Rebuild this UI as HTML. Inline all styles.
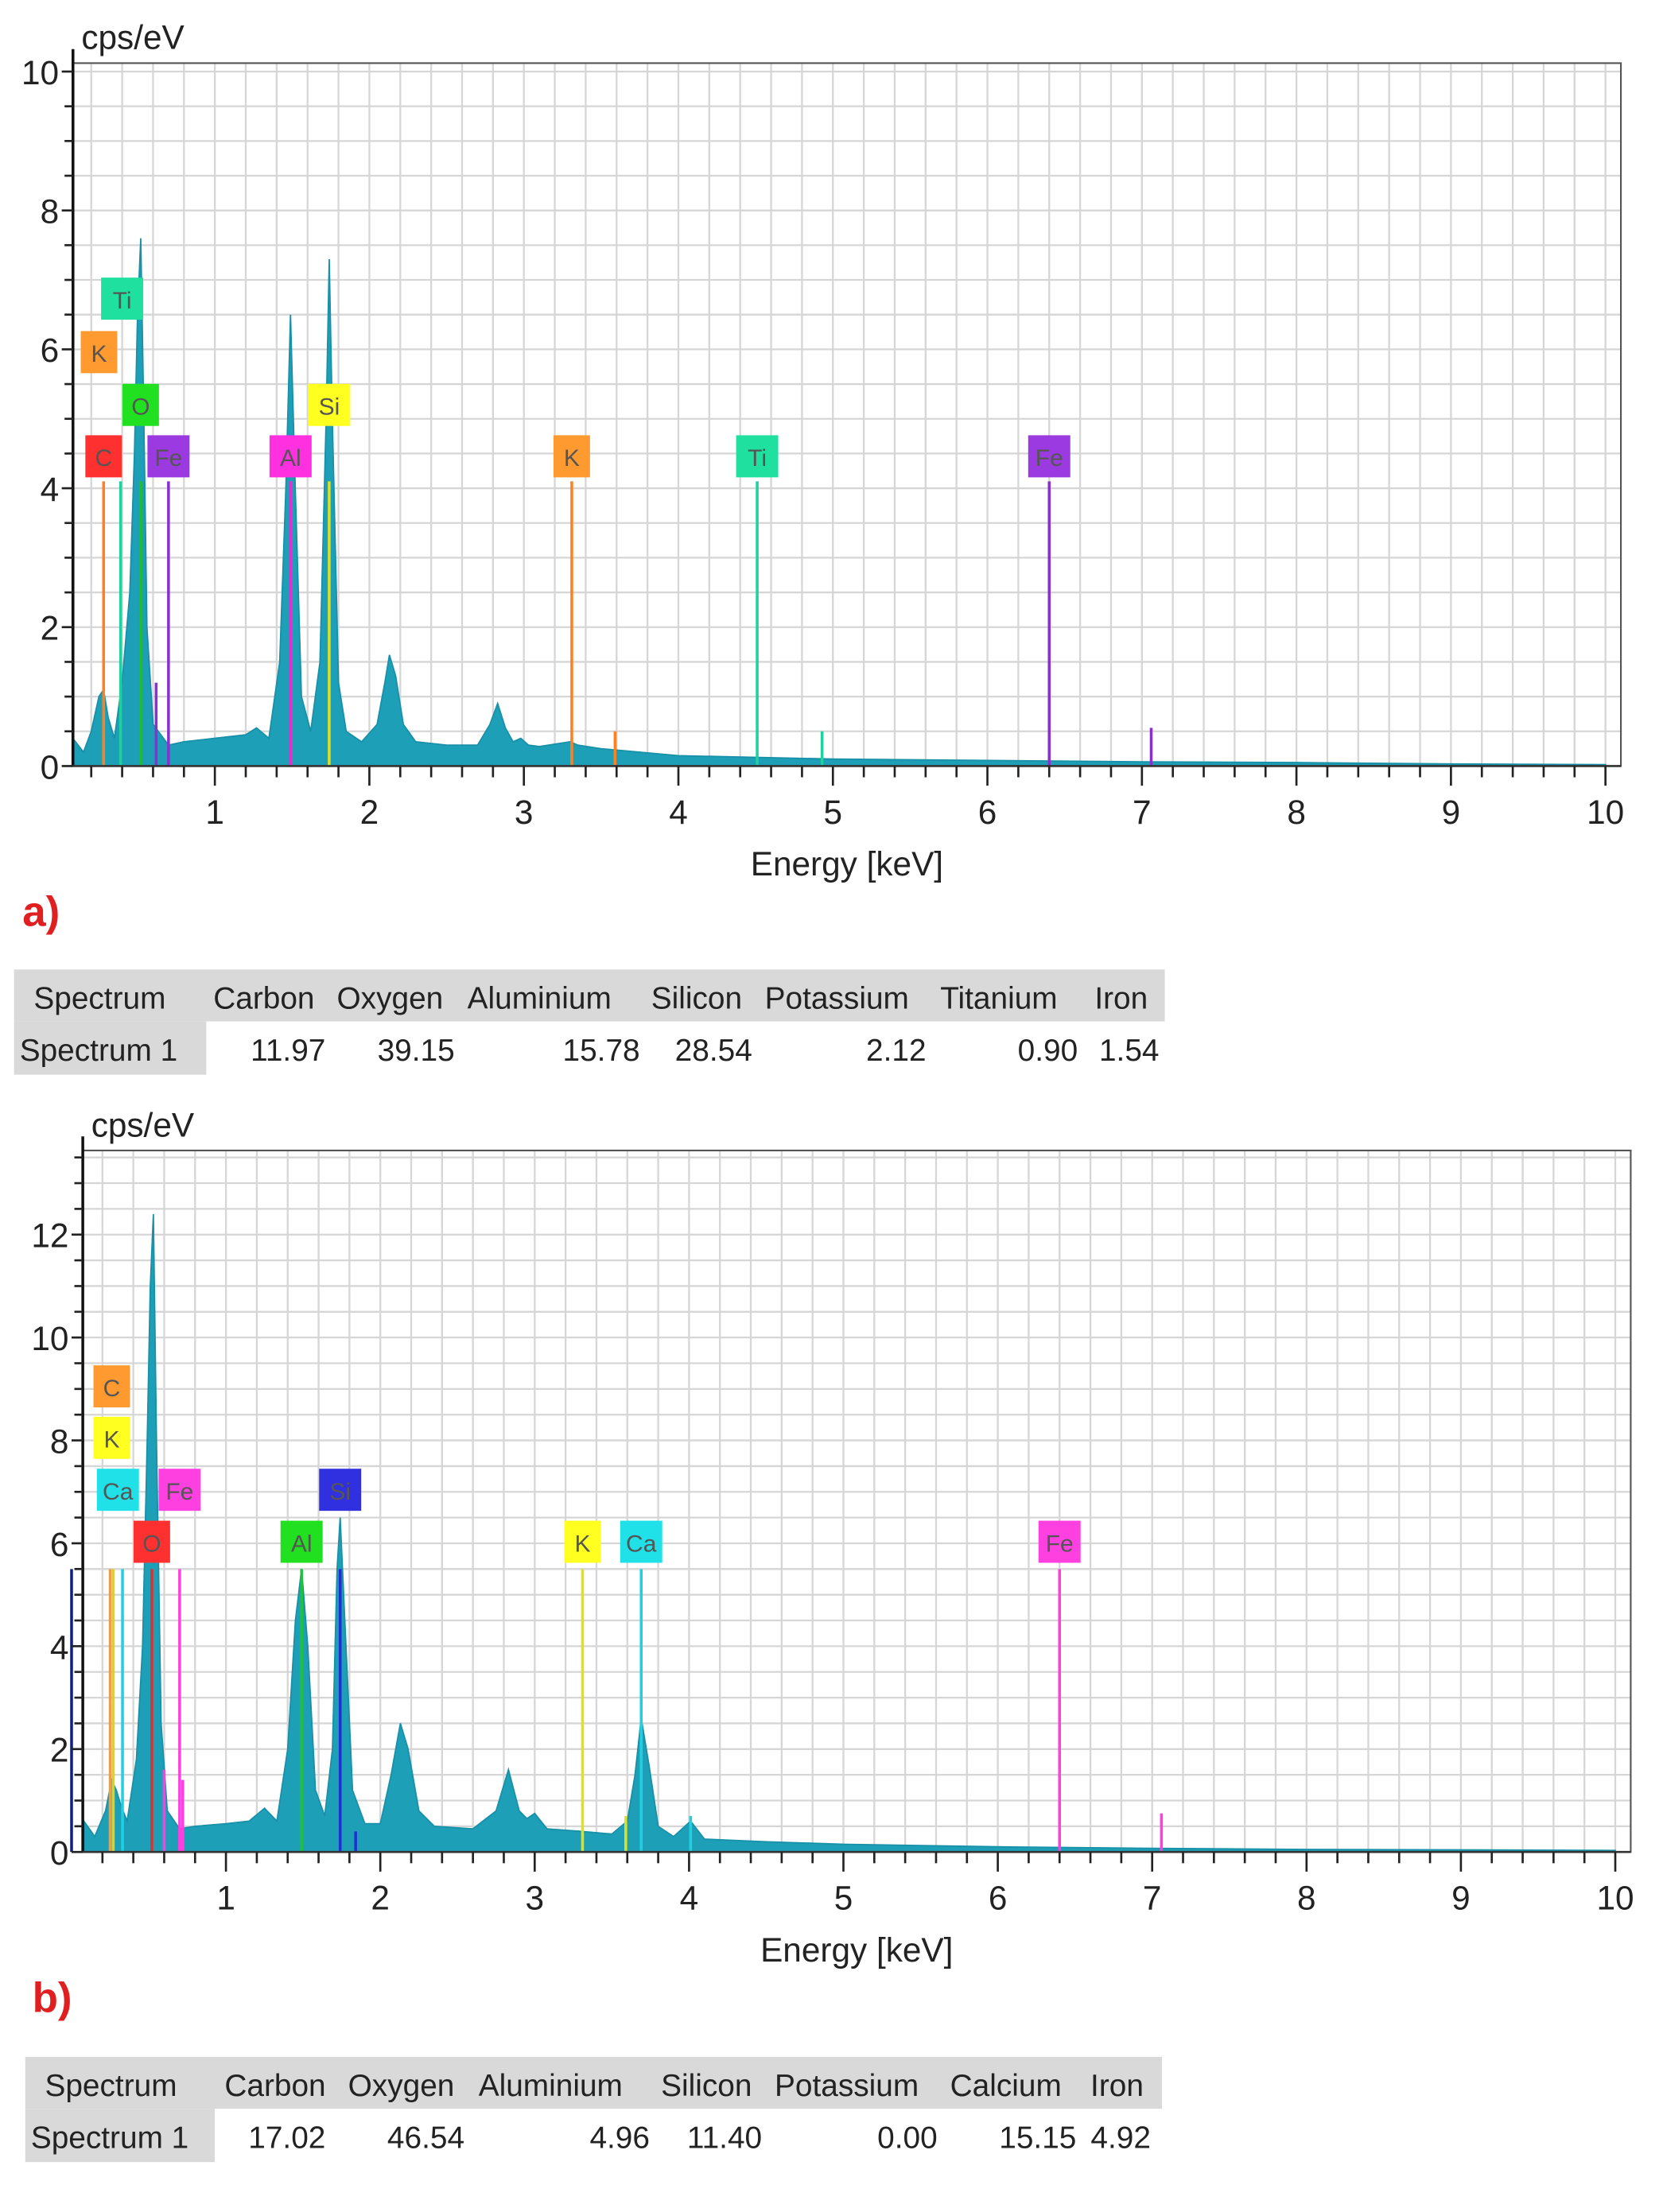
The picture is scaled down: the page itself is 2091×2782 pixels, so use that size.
<!DOCTYPE html>
<html><head><meta charset="utf-8"><style>
html,body{margin:0;padding:0;background:#fff;}
svg{display:block;font-family:"Liberation Sans",sans-serif;}
</style></head><body>
<svg id="fig" width="2091" height="2782" viewBox="0 0 1185 1576.6" preserveAspectRatio="none" xmlns="http://www.w3.org/2000/svg"></svg>
<script>
// ---- Chart A data ----
const energiesA=[0.08,0.15,0.2,0.25,0.28,0.31,0.35,0.4,0.45,0.48,0.5,0.52,0.54,0.56,0.6,0.7,0.8,1.0,1.2,1.27,1.35,1.42,1.46,1.49,1.52,1.56,1.62,1.68,1.72,1.74,1.76,1.8,1.85,1.95,2.05,2.1,2.13,2.17,2.22,2.3,2.5,2.7,2.78,2.83,2.88,2.93,2.98,3.03,3.1,3.3,3.35,3.5,4,5,6,7,8,9,10];
const countsA=[0.4,0.2,0.5,1.0,1.1,0.7,0.4,1.2,2.5,4.5,6.5,7.6,5,2,0.6,0.3,0.35,0.4,0.45,0.55,0.4,1.5,4,6.5,4,1,0.5,1.5,5,7.3,5,1.2,0.5,0.35,0.6,1.2,1.6,1.3,0.6,0.35,0.3,0.3,0.6,0.9,0.55,0.35,0.4,0.3,0.28,0.35,0.3,0.25,0.15,0.1,0.08,0.06,0.05,0.03,0.02];
const markerElA=["C","Fe","Al","K","Ti","Fe","Si","O","K","Ti"];
const markerKeVA=[0.28,0.7,1.49,3.31,4.51,6.4,1.74,0.52,0.25,0.4];
const markerBoxA=[4.46,4.46,4.46,4.46,4.46,4.46,5.2,5.2,5.96,6.73];
const markerColA=["#ff3030","#9a3ae0","#ff30e0","#ff9a30","#20e0a0","#9a3ae0","#ffff20","#20e020","#ff9a30","#20e0a0"];
const lineKeVA=[0.28,0.39,0.52,0.7,1.49,1.74,3.31,4.51,6.4,3.59,4.93,7.06,0.62,0.08];
const lineTopA=[4.1,4.1,4.1,4.1,4.1,4.1,4.1,4.1,4.1,0.5,0.5,0.55,1.2,4.1];
const lineColA=["#ff8020","#20d0a0","#20c020","#8a30d0","#e030d0","#e0e020","#ff8020","#20d0a0","#8a30d0","#ff8020","#20d0a0","#8a30d0","#8a30d0","#e0e020"];
// ---- Chart B data ----
const energiesB=[0.08,0.15,0.22,0.26,0.29,0.32,0.36,0.42,0.46,0.49,0.51,0.53,0.55,0.58,0.62,0.7,0.8,1.0,1.15,1.25,1.33,1.4,1.45,1.49,1.53,1.58,1.64,1.69,1.72,1.74,1.77,1.82,1.9,2.0,2.07,2.13,2.18,2.25,2.35,2.6,2.75,2.83,2.9,2.95,3.0,3.08,3.3,3.5,3.6,3.65,3.69,3.74,3.8,3.9,4.01,4.1,4.5,5,6,7,8,9,10];
const countsB=[0.6,0.3,0.8,1.4,1.2,0.9,0.6,1.8,4,8,11,12.4,8,2.5,0.8,0.45,0.5,0.55,0.6,0.85,0.6,2,4.5,5.5,4,1.2,0.7,2,5.5,6.5,4.5,1.2,0.55,0.55,1.5,2.5,2,0.8,0.5,0.45,0.8,1.6,0.8,0.65,0.75,0.45,0.4,0.35,0.6,1.5,2.6,1.7,0.5,0.3,0.6,0.25,0.2,0.15,0.1,0.07,0.05,0.04,0.03];
const markerElB=["C","K","Ca","Fe","Si","O","Al","K","Ca","Fe"];
const markerKeVB=[0.26,0.26,0.3,0.7,1.74,0.52,1.49,3.31,3.69,6.4];
const markerBoxB=[9.05,8.05,7.04,7.04,7.04,6.03,6.03,6.03,6.03,6.03];
const markerColB=["#ff9a30","#ffff20","#20e0e8","#ff40e0","#3030e0","#ff3030","#20e020","#ffff20","#20e0e8","#ff40e0"];
const lineKeVB=[0.0,0.25,0.27,0.33,0.52,0.7,1.49,1.74,3.31,3.69,6.4,7.06,0.6,0.72,3.59,4.01,1.84];
const lineTopB=[5.5,5.5,5.5,5.5,5.5,5.5,5.5,5.5,5.5,5.5,5.5,0.75,1.6,1.4,0.7,0.7,0.4];
const lineColB=["#102080","#ff9a30","#e0d020","#20d0e0","#e03030","#ff40e0","#20c040","#2030d0","#e0e020","#20d0e0","#ff40e0","#ff40e0","#ff40e0","#ff40e0","#e0e020","#20d0e0","#2030d0"];
// ---- Tables ----
const headA=["Spectrum","Carbon","Oxygen","Aluminium","Silicon","Potassium","Titanium","Iron"];
const headXA=[24,152,240,333,464,545,670,780];
const valsA=["Spectrum 1","11.97","39.15","15.78","28.54","2.12","0.90","1.54"];
const valXA=[14,232,324,456,536,660,768,826];
const headB=["Spectrum","Carbon","Oxygen","Aluminium","Silicon","Potassium","Calcium","Iron"];
const headXB=[32,160,248,341,471,552,677,777];
const valsB=["Spectrum 1","17.02","46.54","4.96","11.40","0.00","15.15","4.92"];
const valXB=[22,232,331,463,543,668,767,820];

const NS="http://www.w3.org/2000/svg";
const svg=document.getElementById('fig');
function mk(tag,attrs,parent,txt){const e=document.createElementNS(NS,tag);for(const k in attrs)e.setAttribute(k,attrs[k]);if(txt!==undefined)e.textContent=txt;(parent||svg).appendChild(e);return e;}

function chart(id,cfg,E,C,mEl,mK,mB,mC,lK,lT,lC){
  const g=mk('g',{});
  
  
  const X=k=>cfg.x0+cfg.kx*k, Y=v=>cfg.y0-cfg.ky*v;
  // grid
  for(let k=0.2;k<10.01;k+=0.2){const l=mk('line',{x1:X(k),x2:X(k),y1:cfg.top,y2:cfg.y0,stroke:'#d6d6d6','stroke-width':1.3},g);}
  for(let v=0.5;Y(v)>cfg.top+1;v+=0.5){const l=mk('line',{x1:cfg.left,x2:cfg.right,y1:Y(v),y2:Y(v),stroke:'#d6d6d6','stroke-width':1.3},g);}
  // frame
  const fr=mk('rect',{x:cfg.left,y:cfg.top,width:cfg.right-cfg.left,height:cfg.y0-cfg.top,fill:'none',stroke:'#555','stroke-width':1.2},g);
  
  // spectrum
  let d='M'+X(E[0])+','+Y(0);
  for(let i=0;i<E.length;i++)d+=' L'+X(E[i]).toFixed(1)+','+Y(C[i]).toFixed(1);
  d+=' L'+X(E[E.length-1])+','+Y(0)+' Z';
  const sp=mk('path',{d:d,fill:'#1e9fb8',stroke:'#1890a8','stroke-width':1},g);
  
  // marker lines
  for(let i=0;i<lK.length;i++){const l=mk('line',{x1:X(lK[i]),x2:X(lK[i]),y1:Y(0),y2:Y(lT[i]),stroke:lC[i],'stroke-width':2},g);}
  // marker boxes
  for(let i=0;i<mEl.length;i++){
    const cx=X(mK[i]),cy=Y(mB[i]);const w=mEl[i].length>1?30:26;
    const b=mk('g',{},g);
    mk('rect',{x:cx-w/2,y:cy-15,width:w,height:30,fill:mC[i]},b);
    mk('text',{x:cx,y:cy+7,'text-anchor':'middle','font-size':17,fill:'#555'},b,mEl[i]);
  }
  // axes
  const ax=mk('line',{x1:cfg.left,x2:cfg.left,y1:cfg.top-10,y2:cfg.y0,stroke:'#111','stroke-width':2},g);
  
  const bx=mk('line',{x1:cfg.left,x2:cfg.right,y1:cfg.y0,y2:cfg.y0,stroke:'#333','stroke-width':1.5},g);
  
  for(let k=0.2;k<10.01;k+=0.2){const maj=Math.abs(k-Math.round(k))<0.01;mk('line',{x1:X(k),x2:X(k),y1:cfg.y0,y2:cfg.y0+(maj?14:8),stroke:'#222','stroke-width':1.5},g);}
  for(let v=0;Y(v)>cfg.top-8;v+=0.5){const maj=Math.abs(v%2)<0.01;mk('line',{x1:cfg.left-(maj?8:6),x2:cfg.left,y1:Y(v),y2:Y(v),stroke:'#222','stroke-width':1.5},g);}
  for(let k=1;k<=10;k++){const t=mk('text',{x:X(k),y:cfg.y0+41,'text-anchor':'middle','font-size':24,fill:'#222'},g,String(k));}
  for(let v=0;v<=cfg.ymax;v+=2){const t=mk('text',{x:cfg.left-10,y:Y(v)+9,'text-anchor':'end','font-size':24,fill:'#222'},g,String(v));}
  const yt=mk('text',{x:cfg.left+6,y:cfg.top-10,'font-size':24,fill:'#222'},g,'cps/eV');
  const xt=mk('text',{x:(cfg.left+cfg.right)/2,y:cfg.y0+78,'text-anchor':'middle','font-size':24,fill:'#222'},g,'Energy [keV]');
  const pl=mk('text',{x:cfg.left-36,y:cfg.y0+114,'font-size':30,'font-weight':'bold',fill:'#e02020'},g,cfg.label);
}
chart('chart-a',{left:52,right:1155,top:45,y0:546,x0:43,kx:110.1,ky:49.5,ymax:10,label:'a)'},energiesA,countsA,markerElA,markerKeVA,markerBoxA,markerColA,lineKeVA,lineTopA,lineColA);
chart('chart-b',{left:59,right:1162,top:820,y0:1320,x0:51,kx:110,ky:36.67,ymax:12,label:'b)'},energiesB,countsB,markerElB,markerKeVB,markerBoxB,markerColB,lineKeVB,lineTopB,lineColB);

function table(id,x0,x1,y0,head,hx,vals,vx,firstW){
  const g=mk('g',{});
  mk('rect',{x:x0,y:y0,width:x1-x0,height:37,fill:'#d9d9d9'},g);
  mk('rect',{x:x0,y:y0+37,width:firstW,height:38,fill:'#d9d9d9'},g);
  for(let i=0;i<head.length;i++){const t=mk('text',{x:hx[i],y:y0+28,'font-size':22,fill:'#222'},g,head[i]);}
  for(let i=0;i<vals.length;i++){const t=mk('text',{x:vx[i],y:y0+65,'font-size':22,fill:'#222','text-anchor':i==0?'start':'end'},g,vals[i]);}
}
table('table-a',10,830,691,headA,headXA,valsA,valXA,137);
table('table-b',18,828,1466,headB,headXB,valsB,valXB,135);
</script>
</body></html>
